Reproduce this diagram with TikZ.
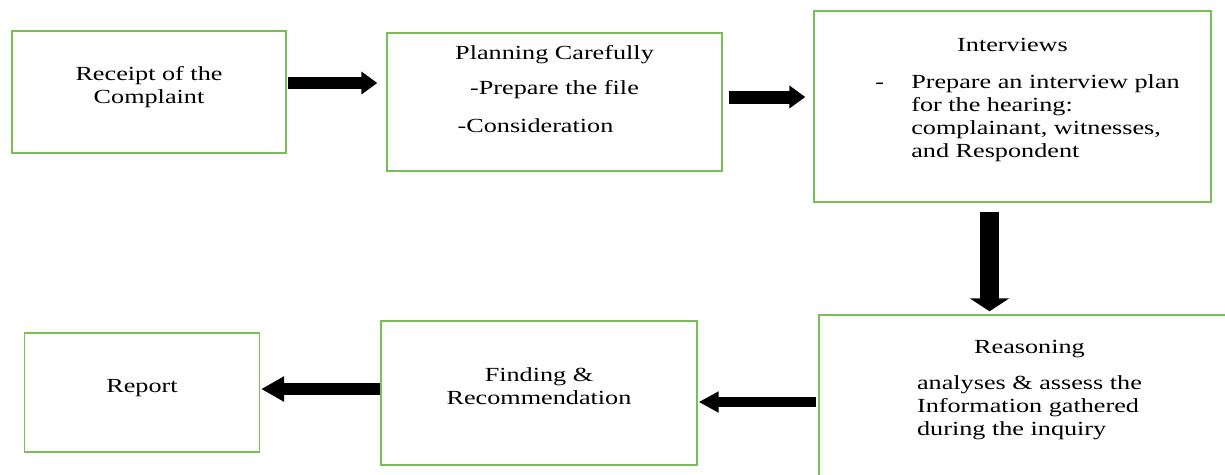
\documentclass[tikz,border=0pt]{standalone}
\usepackage{fontspec}
\setmainfont{Liberation Serif}[FakeStretch=1.31]
\usetikzlibrary{arrows.meta}

\definecolor{boxgreen}{RGB}{122,190,88}

\tikzset{
  stage/.style={draw=boxgreen,line width=1.4pt,inner sep=0pt,align=center,
    font=\fontsize{20}{23}\selectfont},
  fat/.style={line width=12pt,-{Triangle[length=16pt,width=22pt]}}
}

\begin{document}
\begin{tikzpicture}[x=1pt,y=-1pt]
\useasboundingbox (0,0) rectangle (1225,474);
\clip (0,0) rectangle (1225,474);

% top row
\node[stage,minimum width=274,minimum height=122] (s1) at (149,92)
  {Receipt of the\\Complaint\\[-8pt]\mbox{}};
\node[stage,minimum width=335,minimum height=138] (s2) at (554.5,102)
  {Planning Carefully\\[12pt]-Prepare the file\\[15pt]\mbox{-Consideration\hspace{38pt}}\\[4pt]\mbox{}};
\node[stage,minimum width=397,minimum height=191] (s3) at (1012.5,106.5)
  {Interviews\\[14pt]\begin{tabular}[t]{@{\hspace{30pt}}p{36pt}@{}l@{}}
    -&Prepare an interview plan\\&for the hearing:\\&complainant, witnesses,\\&and Respondent
  \end{tabular}\\[10pt]\mbox{}};

% bottom row (last box runs off the page)
\node[stage,minimum width=421,minimum height=163] (s4) at (1029.5,396.5)
  {Reasoning\\[13pt]\begin{tabular}[t]{@{}l@{}}
    analyses \& assess the\\Information gathered\\during the inquiry
  \end{tabular}\\[9pt]\mbox{}};
\node[stage,minimum width=316,minimum height=144] (s5) at (539,393)
  {Finding \&\\Recommendation\\[-10pt]\mbox{}};
\node[stage,minimum width=235,minimum height=119] (s6) at (142,392.5)
  {Report\\[-9pt]\mbox{}};

\path[fat,shorten <=1pt,shorten >=9pt] ([yshift=9pt]s1.east) edge ([yshift=19pt]s2.west);
\path[fat,line width=13pt,shorten <=6pt,shorten >=8pt] ([yshift=5pt]s2.east) edge ([yshift=9.5pt]s3.west);
\path[fat,line width=19pt,-{Triangle[length=13pt,width=39pt]},shorten <=9pt,shorten >=3pt]
  ([xshift=-23pt]s3.south) edge ([xshift=-40pt]s4.north);
\path[fat,line width=10pt,-{Triangle[length=20pt,width=20pt]},shorten <=2pt,shorten >=1pt]
  ([yshift=-5.5pt]s4.west) edge ([yshift=-9pt]s5.east);
\path[fat,-{Triangle[length=23pt,width=24pt]},shorten >=1pt]
  ([yshift=4pt]s5.west) edge ([yshift=3.5pt]s6.east);

\end{tikzpicture}
\end{document}
